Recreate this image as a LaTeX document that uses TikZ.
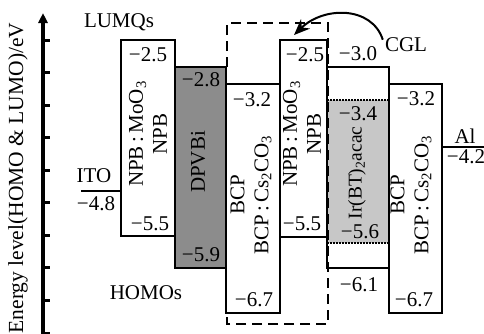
\documentclass[tikz,border=0pt]{standalone}
\usepackage{fontspec}
\setmainfont{Liberation Serif}
\usetikzlibrary{arrows.meta}
\begin{document}
\begin{tikzpicture}[x=1pt,y=-1pt,
  every node/.style={font=\fontsize{21}{24}\selectfont, inner sep=0pt},
  lvl/.style={line width=2.6pt, line join=miter},
  vlabel/.style={rotate=90, align=center},
  axisline/.style={line width=3.5pt},
  cglbox/.style={line width=2.2pt, dash pattern=on 10pt off 6pt},
  dotline/.style={line width=1.4pt, dash pattern=on 1.5pt off 1.5pt},
  darkfill/.style={fill=black!45},
  lightfill/.style={fill=black!22}]
\useasboundingbox (0,0) rectangle (484,333);
% axis
\draw[axisline, -{Triangle[length=10pt,width=9pt]}] (43,336) -- (43,13);
\foreach \yy in {40,72.5,105,137.5,170,202.5,235,267.5,300,333}
  \draw[line width=3pt] (43,\yy) -- (50,\yy);
\node[rotate=90, font=\fontsize{21.5}{24}\selectfont] (ylab) at (18,178) {Energy level(HOMO \& LUMO)/eV};
% fills
\fill[darkfill] (175,67) rectangle (226,268);
\fill[lightfill] (327,100) rectangle (389,243);
% CGL dashed box
\draw[cglbox] (227,67) -- (227,23) -- (328,23) -- (328,324) -- (227,324) -- (227,313);
% level boxes
\draw[lvl] (121,40) rectangle (175,236);
\draw[lvl] (175,67) rectangle (226,268);
\draw[lvl] (226,84) rectangle (280,313);
\draw[lvl] (280,40) rectangle (327,237);
\draw[lvl] (327,67) rectangle (389,268);
\draw[lvl] (389,84) rectangle (442,313);
\draw[dotline] (327,100) -- (389,100);
\draw[dotline] (327,243) -- (389,243);
% electrodes
\draw[lvl] (81,191) -- (121,191);
\draw[lvl] (442,147) -- (486,147);
% labels
\node (lumo) at (119,22) {LUMQs};
\node (homo) at (146,293) {HOMOs};
\node (ito) at (94,176) {ITO};
\node (ito48) at (96,204) {−4.8};
\node (n1t) at (148,55) {−2.5};
\node (n1b) at (150,224) {−5.5};
\node[vlabel] (l1) at (148,134) {NPB\,:\,MoO\textsubscript{3}\\NPB};
\node (d1t) at (201,80) {−2.8};
\node (d1b) at (201,255) {−5.9};
\node[rotate=90] (dl) at (198,162) {DPVBi};
\node (b1t) at (252,100) {−3.2};
\node (b1b) at (254,300) {−6.7};
\node[vlabel] (bl1) at (251,195) {BCP\\BCP\,:\,Cs\textsubscript{2}CO\textsubscript{3}};
\node (n2t) at (305,55) {−2.5};
\node (n2b) at (302,224) {−5.5};
\node[vlabel] (l2) at (302,134) {NPB\,:\,MoO\textsubscript{3}\\NPB};
\node (i30) at (358,54) {−3.0};
\node (i34) at (358,114) {−3.4};
\node (i56) at (360,232) {−5.6};
\node (i61) at (359,285) {−6.1};
\node[rotate=90, font=\fontsize{19.5}{24}\selectfont] (il) at (357,173) {Ir(BT)\textsubscript{2}acac};
\node (b2t) at (416,99) {−3.2};
\node (b2b) at (414,300) {−6.7};
\node[vlabel] (bl2) at (411,195) {BCP\\BCP\,:\,Cs\textsubscript{2}CO\textsubscript{3}};
\node (al) at (465,136) {Al};
\node (al42) at (466,157) {−4.2};
\node (cgl) at (406,45) {CGL};
\coordinate (tip) at (294,35);
\draw[line width=2pt, -{Stealth[length=16pt,width=13pt]}] ([xshift=-2pt,yshift=-2pt]cgl.north west) .. controls (372,6) and (324,6) .. (tip);
\end{tikzpicture}
\end{document}
